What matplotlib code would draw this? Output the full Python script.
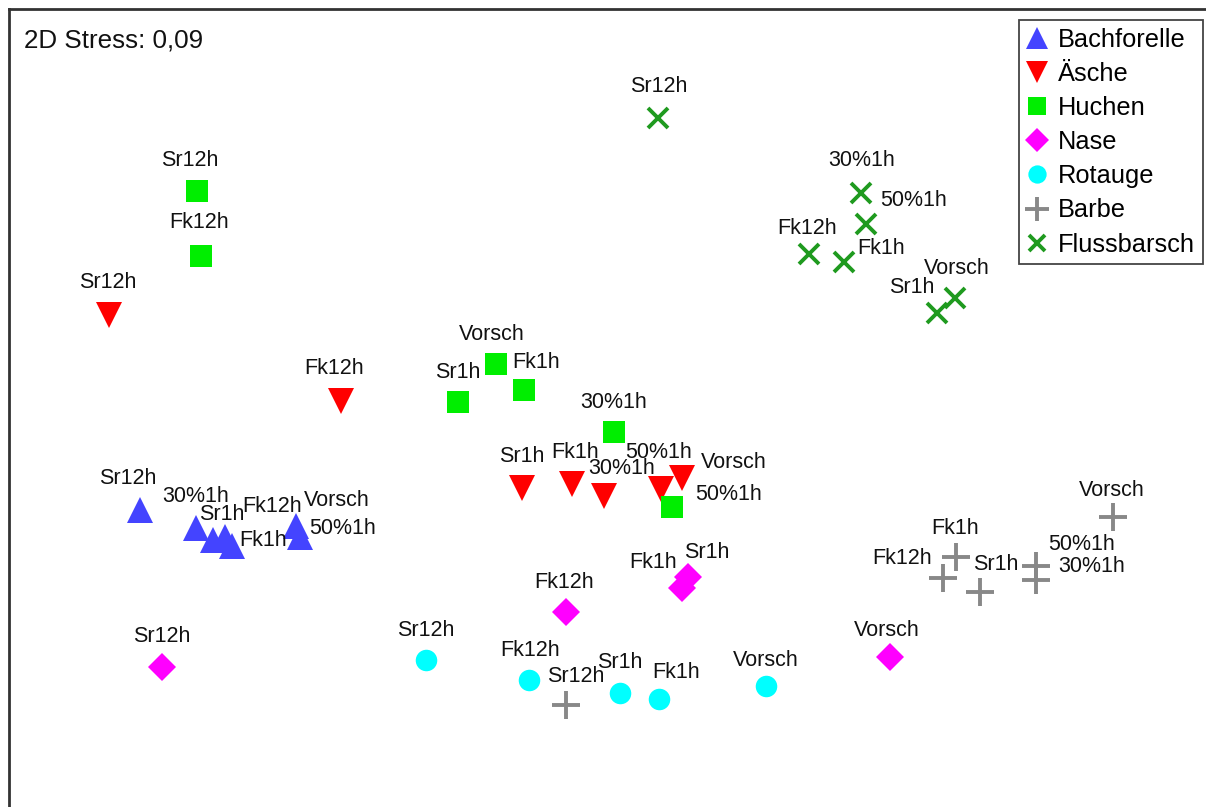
import matplotlib
matplotlib.use("Agg")
import matplotlib.pyplot as plt

plt.rcParams['font.family'] = ['Liberation Sans', 'DejaVu Sans']

# ---- data (NMDS coordinates; y grows downward) ----
bach_lab = ["Sr12h", "30%1h", "Sr1h", "Fk12h", "Fk1h", "Vorsch", "50%1h"]
bach_x = [140, 196, 213, 225, 232, 296, 300]
bach_y = [510, 528, 540, 537, 546, 526, 537]
bach_dx = [-12, 0, 9, 47, 31, 41, 43]
bach_dy = [-32, -31, -25, -31, -5, -26, -9]

aesche_lab = ["Sr12h", "Fk12h", "Sr1h", "Fk1h", "30%1h", "50%1h", "Vorsch"]
aesche_x = [109, 341, 522, 572, 604, 661, 682]
aesche_y = [315, 401, 488, 484, 496, 489, 478]
aesche_dx = [-1, -7, 0, 3, 18, -2, 52]
aesche_dy = [-33, -33, -32, -32, -27, -37, -16]

huchen_lab = ["Sr12h", "Fk12h", "Vorsch", "Sr1h", "Fk1h", "30%1h", "50%1h"]
huchen_x = [197, 201, 496, 458, 524, 614, 672]
huchen_y = [191, 256, 364, 402, 390, 432, 507]
huchen_dx = [-7, -2, -4, 0, 12, 0, 57]
huchen_dy = [-31, -33, -30, -30, -28, -29, -13]

nase_lab = ["Sr12h", "Fk12h", "Fk1h", "Sr1h", "Vorsch"]
nase_x = [162, 566, 682, 688, 890]
nase_y = [667, 612, 588, 577, 657]
nase_dx = [0, -2, -29, 19, -3]
nase_dy = [-31, -30, -25, -25, -26]

rot_lab = ["Sr12h", "Fk12h", "Sr1h", "Fk1h", "Vorsch"]
rot_x = [426, 529, 620, 659, 766]
rot_y = [660, 680, 693, 699, 686]
rot_dx = [0, 1, 0, 17, 0]
rot_dy = [-29, -30, -30, -27, -25]

barbe_lab = ["Sr12h", "Vorsch", "Fk1h", "Fk12h", "Sr1h", "50%1h", "30%1h"]
barbe_x = [566, 1113, 956, 943, 980, 1036, 1036]
barbe_y = [705, 517, 557, 578, 592, 566, 580]
barbe_dx = [10, -1, -1, -41, 16, 46, 56]
barbe_dy = [-28, -26, -29, -20, -27, -21, -13]

fluss_lab = ["Sr12h", "30%1h", "50%1h", "Fk12h", "Fk1h", "Vorsch", "Sr1h"]
fluss_x = [658, 861, 866, 809, 844, 955, 937]
fluss_y = [118, 193, 224, 254, 262, 298, 313]
fluss_dx = [1, 1, 48, -2, 37, 2, -25]
fluss_dy = [-32, -33, -24, -26, -14, -30, -26]

species = ["Bachforelle", "Äsche", "Huchen", "Nase", "Rotauge", "Barbe", "Flussbarsch"]
stress_text = "2D Stress: 0,09"

groups = [
    (bach_lab, bach_x, bach_y, bach_dx, bach_dy),
    (aesche_lab, aesche_x, aesche_y, aesche_dx, aesche_dy),
    (huchen_lab, huchen_x, huchen_y, huchen_dx, huchen_dy),
    (nase_lab, nase_x, nase_y, nase_dx, nase_dy),
    (rot_lab, rot_x, rot_y, rot_dx, rot_dy),
    (barbe_lab, barbe_x, barbe_y, barbe_dx, barbe_dy),
    (fluss_lab, fluss_x, fluss_y, fluss_dx, fluss_dy),
]

styles = [
    dict(marker="^", color="#4444ff", ms=19, mew=0),
    dict(marker="v", color="#ff0000", ms=19, mew=0),
    dict(marker="s", color="#00ee00", ms=15.5, mew=0),
    dict(marker="D", color="#ff00ff", ms=14.5, mew=0),
    dict(marker="o", color="#00ffff", ms=15.5, mew=0),
    dict(marker="+", color="#888888", ms=20, mew=2.8),
    dict(marker="x", color="#1f9a1f", ms=14, mew=2.8),
]

# ---- figure ----
W, H = 1206, 807
fig = plt.figure(figsize=(W / 100, H / 100), dpi=100)
L, T, R, B = 9, 9, 1222, 830
ax = fig.add_axes([L / W, 1 - B / H, (R - L) / W, (B - T) / H])
ax.set_xlim(L, R)
ax.set_ylim(B, T)
ax.set_xticks([])
ax.set_yticks([])
for s in ax.spines.values():
    s.set_linewidth(2.0)
    s.set_color("#333333")

handles = []
for name, (lab, xs, ys, dxs, dys), st in zip(species, groups, styles):
    h, = ax.plot(xs, ys, linestyle="none", label=name, marker=st["marker"],
                 color=st["color"], ms=st["ms"], mew=st["mew"],
                 markeredgecolor=st["color"])
    handles.append(h)
    for t, x, y, dx, dy in zip(lab, xs, ys, dxs, dys):
        ax.annotate(t, (x, y), xytext=(dx * 0.72, -dy * 0.72),
                    textcoords="offset points", ha="center", va="center",
                    fontsize=15.5, color="#111111", zorder=5)

ax.text(24, 40, stress_text, ha="left", va="center", fontsize=18.7,
        color="#111111")

leg = ax.legend(handles=handles, loc="upper right",
                bbox_to_anchor=(1203 / W, 1 - 20 / H),
                bbox_transform=fig.transFigure, borderaxespad=0,
                fontsize=18.3, handlelength=0.8, handletextpad=0.45,
                labelspacing=0.40, borderpad=0.3, markerscale=0.85,
                fancybox=False, framealpha=1, edgecolor="#444444")
leg.get_frame().set_linewidth(1.3)

fig.savefig("out.png", dpi=100)
